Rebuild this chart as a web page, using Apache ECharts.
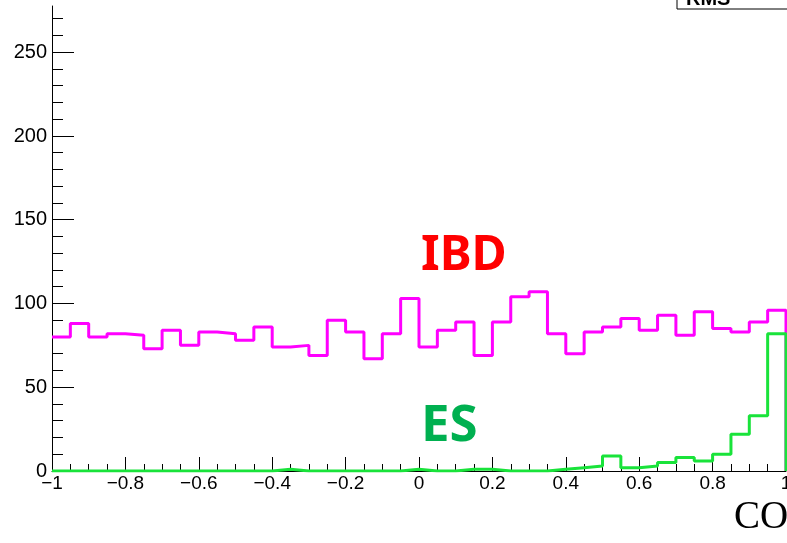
<!DOCTYPE html>
<html>
<head>
<meta charset="utf-8">
<script src="https://cdn.jsdelivr.net/npm/echarts@6/dist/echarts.min.js"></script>
<style>
html,body{margin:0;padding:0;background:#fff;}
#chart{width:787px;height:543px;}
</style>
</head>
<body>
<div id="chart"></div>
<script>
// ---- data ----
const xMin = -1, xMax = 1, binWidth = 0.05;
const ibdCounts = [80,88,80,82,81,73,84,75,83,82,78,86,74,75,69,90,83,67,82,103,
                   74,84,89,69,89,104,107,82,70,83,86,91,84,93,81,95,85,83,89,96];
const esCounts  = [0,0,0,0,0,0,0,0,0,0,0,0,1,0,0,0,0,0,0,1,
                   0,0,1,1,0,0,0,1,2,3,9,2,3,5,8,6,10,22,33,82];
const yMajorTicks = [0,50,100,150,200,250];
const yMinorTicks = [10,20,30,40,60,70,80,90,110,120,130,140,160,170,180,190,210,220,230,240,260,270];
const yMaxShown = 277.6;
const xTickInterval = 0.2;
const labelIBD = 'IBD', labelES = 'ES', axisTitle = 'CO', statsText = 'RMS';

function histPoints(counts){
  const pts = counts.map((c,i)=>[xMin + i*binWidth, c]);
  pts.push([xMax, counts[counts.length-1]]);
  pts.push([xMax, 0]);
  return pts;
}

const chart = echarts.init(document.getElementById('chart'), null, {renderer:'canvas'});
const axisFont = 'Liberation Sans, Arial, Helvetica, sans-serif';
chart.setOption({
  animation:false,
  backgroundColor:'#ffffff',
  grid:{left:52, right:1, top:6, bottom:72, containLabel:false, outerBoundsMode:'none'},
  xAxis:{
    type:'value', min:xMin, max:xMax, interval:xTickInterval,
    axisLine:{show:true, onZero:false, lineStyle:{color:'#000', width:1}},
    axisTick:{show:true, inside:true, length:14, lineStyle:{color:'#000', width:1}},
    minorTick:{show:true, splitNumber:4, length:7, lineStyle:{color:'#000', width:1}},
    splitLine:{show:false}, minorSplitLine:{show:false},
    axisLabel:{show:true, margin:3, color:'#000', fontSize:19, fontFamily:axisFont,
      showMinLabel:true, showMaxLabel:true,
      formatter:v=>String(Math.round(v*10)/10).replace('-', '\u2212')}
  },
  yAxis:[{
    type:'value', min:0, max:yMaxShown, position:'left', offset:0,
    axisLine:{show:true, onZero:false, lineStyle:{color:'#000', width:1}},
    axisTick:{show:true, inside:true, length:22, customValues:yMajorTicks, lineStyle:{color:'#000', width:1}},
    axisLabel:{show:true, margin:5, color:'#000', fontSize:20, fontFamily:axisFont, customValues:yMajorTicks},
    splitLine:{show:false}
  },{
    type:'value', min:0, max:yMaxShown, position:'left', offset:0,
    axisLine:{show:false, onZero:false},
    axisTick:{show:true, inside:true, length:11, customValues:yMinorTicks, lineStyle:{color:'#000', width:1}},
    axisLabel:{show:false},
    splitLine:{show:false}
  }],
  series:[{
    type:'line', name:'IBD', step:'end', showSymbol:false, symbol:'none',
    data:histPoints(ibdCounts), lineStyle:{color:'#ff00ff', width:3}, itemStyle:{color:'#ff00ff'}, z:2
  },{
    type:'line', name:'ES', step:'end', showSymbol:false, symbol:'none',
    data:histPoints(esCounts), lineStyle:{color:'#19e33a', width:3}, itemStyle:{color:'#19e33a'}, z:3
  }],
  graphic:[
    {type:'rect', shape:{x:677, y:-40, width:140, height:49}, style:{fill:'#fff', stroke:'#000', lineWidth:1}, z:10},
    {type:'text', x:686, y:9, style:{text:statsText, fill:'#000', font:'bold 20px Liberation Sans, Arial, sans-serif', verticalAlign:'bottom'}, z:11},
    {type:'text', x:421, y:256, style:{text:labelIBD, fill:'#ff0000', font:'bold 48px "Noto Sans", sans-serif', verticalAlign:'middle'}, z:11},
    {type:'text', x:421, y:426, style:{text:labelES, fill:'#00b050', font:'bold 51px "Noto Sans", sans-serif', verticalAlign:'middle'}, z:11},
    {type:'text', x:734, y:518, style:{text:axisTitle, fill:'#000', font:'39px "Liberation Serif", "Times New Roman", serif', verticalAlign:'middle'}, z:11}
  ]
});
</script>
</body>
</html>
